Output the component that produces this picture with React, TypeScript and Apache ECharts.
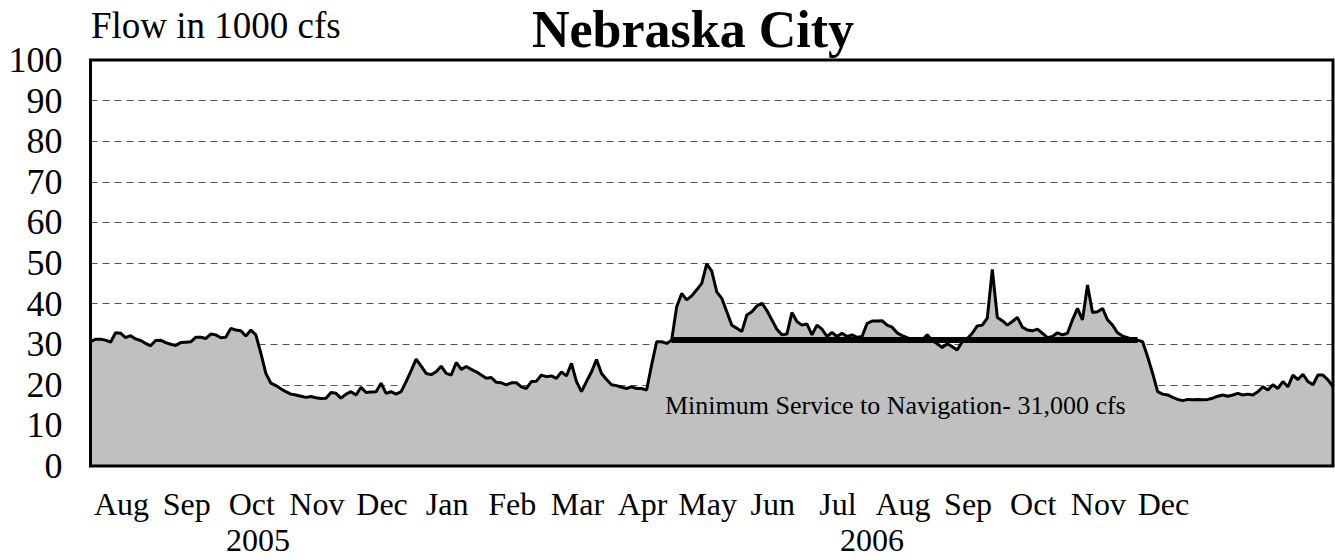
import React, { useEffect, useRef } from "react";
import * as echarts from "echarts";

// Daily-ish flow readings (1000 cfs), Aug 2005 – Dec 2006
const flow: number[] = [
  30.6, 31.2, 31.2, 31.0, 30.5, 32.8, 32.7, 31.6, 32.1, 31.3,
  30.9, 30.2, 29.6, 30.9, 31.0, 30.4, 30.0, 29.7, 30.4, 30.5,
  30.6, 31.7, 31.7, 31.4, 32.5, 32.3, 31.6, 31.7, 33.9, 33.5,
  33.3, 32.0, 33.5, 32.3, 27.8, 22.8, 20.4, 19.8, 19.0, 18.3,
  17.7, 17.5, 17.2, 16.9, 17.1, 16.8, 16.6, 16.7, 18.1, 17.9,
  16.7, 17.7, 18.3, 17.5, 19.4, 18.1, 18.2, 18.3, 20.4, 17.9,
  18.3, 17.7, 18.3, 20.8, 23.5, 26.3, 24.6, 22.8, 22.5, 23.2,
  24.6, 22.8, 22.4, 25.5, 23.8, 24.5, 23.8, 23.2, 22.4, 21.6,
  21.8, 20.6, 20.5, 20.0, 20.5, 20.5, 19.5, 19.1, 20.8, 20.9,
  22.4, 22.0, 22.2, 21.6, 23.2, 22.2, 25.3, 20.8, 18.3, 20.8,
  23.2, 26.2, 22.8, 21.3, 20.0, 19.8, 19.4, 19.1, 19.5, 19.1,
  19.1, 18.7, 24.9, 30.6, 30.6, 30.2, 31.0, 39.2, 42.5, 40.9,
  41.9, 43.4, 45.0, 49.8, 48.0, 42.9, 41.3, 38.0, 34.7, 33.9,
  33.1, 37.2, 38.0, 39.4, 40.1, 38.3, 36.0, 33.7, 32.3, 32.5,
  37.8, 35.6, 34.7, 35.0, 32.3, 34.7, 33.7, 31.9, 32.9, 31.9,
  32.7, 31.9, 32.3, 31.7, 31.9, 35.1, 35.7, 35.7, 35.8, 34.7,
  34.2, 32.8, 32.1, 31.6, 31.0, 31.0, 31.0, 32.3, 30.9, 30.1,
  29.2, 30.1, 29.4, 28.6, 30.6, 31.4, 32.7, 34.5, 34.7, 36.4,
  48.4, 36.6, 35.8, 34.7, 35.6, 36.6, 34.2, 33.5, 33.3, 33.7,
  32.7, 31.6, 31.9, 32.8, 32.3, 32.7, 36.0, 38.8, 36.0, 44.6,
  37.8, 38.0, 38.8, 36.0, 34.7, 32.8, 32.0, 31.6, 31.0, 31.0,
  30.6, 26.9, 22.8, 18.3, 17.7, 17.5, 16.9, 16.4, 16.1, 16.4,
  16.3, 16.4, 16.3, 16.4, 16.7, 17.2, 17.5, 17.2, 17.5, 17.9,
  17.5, 17.7, 17.5, 18.3, 19.5, 18.7, 20.0, 19.1, 20.8, 19.5,
  22.4, 21.3, 22.6, 20.8, 20.0, 22.4, 22.4, 21.2, 19.5,
];

const monthLabels = [
  "Aug", "Sep", "Oct", "Nov", "Dec", "Jan", "Feb", "Mar", "Apr",
  "May", "Jun", "Jul", "Aug", "Sep", "Oct", "Nov", "Dec",
];
const yearLabels = ["2005", "2006"];

const minService = 31; // 1000 cfs
const navStartIdx = 116;
const navEndIdx = 209;

const yMin = 0;
const yMax = 100;
const yStep = 10;

const SERIF = '"Liberation Serif", "Times New Roman", serif';

export default function App() {
  const ref = useRef<HTMLDivElement>(null);

  useEffect(() => {
    if (!ref.current) return;
    document.body.style.margin = "0";
    const chart = echarts.init(ref.current, null, { renderer: "svg" });

    const gridLeft = 90.5;
    const gridTop = 60;
    const gridRight = 2;
    const gridBottom = 94;
    const W = 1335;
    const H = 560;

    const txt = (text: string, x: number, y: number, font: string, align: string) => ({
      type: "text",
      z: 100,
      silent: true,
      x,
      y,
      style: {
        text,
        font,
        fill: "#000",
        align,
        textAlign: align,
        verticalAlign: "middle",
        textVerticalAlign: "middle",
      },
    });

    chart.setOption({
      animation: false,
      backgroundColor: "#fff",
      grid: [
        { left: gridLeft, top: gridTop, right: gridRight, bottom: gridBottom },
        { left: 89, top: 465, width: 1107, height: 1 },
      ],
      xAxis: [
        {
          type: "category",
          gridIndex: 0,
          boundaryGap: false,
          data: flow.map((_, i) => String(i)),
          axisLine: { show: false },
          axisTick: { show: false },
          axisLabel: { show: false },
          splitLine: { show: false },
        },
        {
          type: "category",
          gridIndex: 1,
          boundaryGap: true,
          data: monthLabels.map((m, i) => m + "-" + i),
          axisLine: { show: false },
          axisTick: { show: false },
          splitLine: { show: false },
          axisLabel: {
            interval: 0,
            margin: 22,
            color: "#000",
            fontFamily: SERIF,
            fontSize: 32,
            formatter: (v: string) => v.split("-")[0],
          },
        },
      ],
      yAxis: [
        {
          type: "value",
          gridIndex: 0,
          min: yMin,
          max: yMax,
          interval: yStep,
          axisLine: { show: false },
          axisTick: { show: false },
          axisLabel: {
            margin: 28,
            color: "#000",
            fontFamily: SERIF,
            fontSize: 36,
          },
          splitLine: {
            show: true,
            lineStyle: { color: "#555", width: 1, type: [7, 5] },
          },
        },
        {
          type: "value",
          gridIndex: 1,
          min: 0,
          max: 1,
          show: false,
        },
      ],
      series: [
        {
          type: "line",
          xAxisIndex: 0,
          yAxisIndex: 0,
          data: flow,
          symbol: "none",
          smooth: false,
          lineStyle: { color: "#000", width: 3 },
          areaStyle: { color: "#c0c0c0", opacity: 1 },
          markLine: {
            silent: true,
            symbol: ["none", "none"],
            label: { show: false },
            lineStyle: { color: "#000", width: 6, type: "solid" },
            data: [
              [
                { coord: [navStartIdx, minService] },
                { coord: [navEndIdx, minService] },
              ],
            ],
          },
        },
      ],
      graphic: [
        {
          type: "rect",
          z: 100,
          silent: true,
          shape: {
            x: gridLeft,
            y: gridTop,
            width: W - gridLeft - gridRight,
            height: H - gridTop - gridBottom,
          },
          style: { fill: "none", stroke: "#000", lineWidth: 3 },
        },
        txt("Flow in 1000 cfs", 91, 25, `37px ${SERIF}`, "left"),
        txt("Nebraska City", 693, 29, `bold 52px ${SERIF}`, "center"),
        txt(
          "Minimum Service to Navigation- " + (minService * 1000).toLocaleString("en-US") + " cfs",
          665,
          405,
          `26px ${SERIF}`,
          "left"
        ),
        txt(yearLabels[0], 258, 540, `32px ${SERIF}`, "center"),
        txt(yearLabels[1], 872, 540, `32px ${SERIF}`, "center"),
      ],
    });

    return () => {
      chart.dispose();
    };
  }, []);

  return (
    <div
      ref={ref}
      style={{ position: "absolute", left: 0, top: 0, width: 1335, height: 560 }}
    />
  );
}
